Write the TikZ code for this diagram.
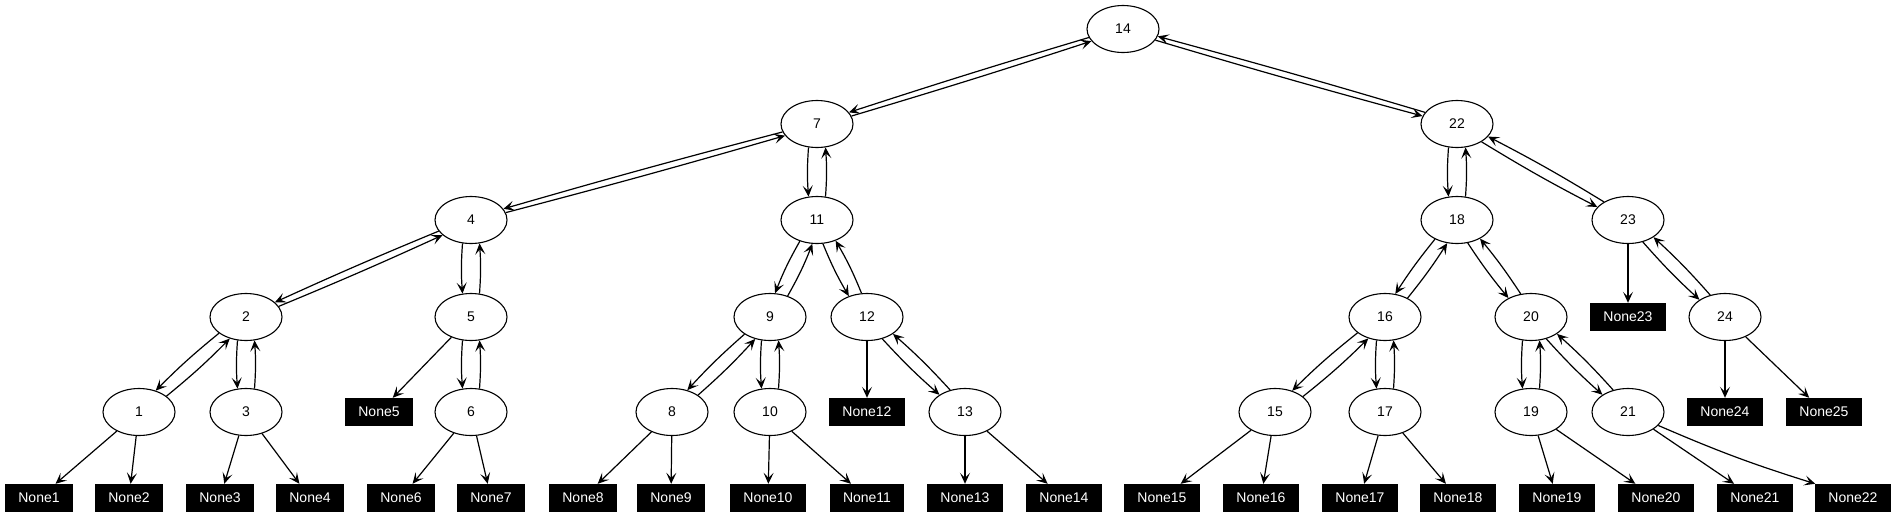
\documentclass[tikz,border=0pt]{standalone}
\usepackage{fontspec}
\setmainfont{Liberation Sans}
\usetikzlibrary{shapes.geometric,arrows.meta,calc}
\tikzset{
  tnode/.style={draw, ellipse, line width=1.1pt, minimum width=72pt, minimum height=47pt, inner sep=0pt, font=\fontsize{14}{16}\selectfont},
  nonebox/.style={fill=black, text=white, minimum height=28pt, inner xsep=13pt, inner ysep=0pt, font=\fontsize{14}{16}\selectfont},
  edge/.style={line width=1.2pt, -{Stealth[length=11pt,width=10pt,inset=5pt]}},
}
\newcommand\pairedge[4]{%
  \draw[edge] let \p1=($(#2)-(#1)$), \n1={atan2(\y1,\x1)}, \n2={\n1-#3}, \n3={\n1+180+#3} in
    (#1.\n2) to[bend right=#4] (#2.\n3);
  \draw[edge] let \p1=($(#2)-(#1)$), \n1={atan2(\y1,\x1)}, \n2={\n1+180-#3}, \n3={\n1+#3} in
    (#2.\n2) to[bend right=#4] (#1.\n3);
}
\begin{document}
\begin{tikzpicture}[x=1pt,y=-1pt]
\useasboundingbox[fill=white] (0,0) rectangle (1896,517);
% tree nodes
\node[tnode] (n14) at (1123,29) {14};
\node[tnode] (n7) at (817,124) {7};
\node[tnode] (n22) at (1457,124) {22};
\node[tnode] (n4) at (471,220) {4};
\node[tnode] (n11) at (817,220) {11};
\node[tnode] (n18) at (1457,220) {18};
\node[tnode] (n23) at (1628,220) {23};
\node[tnode] (n2) at (246,317) {2};
\node[tnode] (n5) at (471,317) {5};
\node[tnode] (n9) at (770,317) {9};
\node[tnode] (n12) at (867,317) {12};
\node[tnode] (n16) at (1385,317) {16};
\node[tnode] (n20) at (1531,317) {20};
\node[tnode] (n24) at (1725,317) {24};
\node[tnode] (n1) at (139,412) {1};
\node[tnode] (n3) at (246,412) {3};
\node[tnode] (n6) at (471,412) {6};
\node[tnode] (n8) at (672,412) {8};
\node[tnode] (n10) at (770,412) {10};
\node[tnode] (n13) at (965,412) {13};
\node[tnode] (n15) at (1275,412) {15};
\node[tnode] (n17) at (1385,412) {17};
\node[tnode] (n19) at (1531,412) {19};
\node[tnode] (n21) at (1628,412) {21};
% None boxes
\node[nonebox] (b23) at (1628,317) {None23};
\node[nonebox] (b5) at (379,412) {None5};
\node[nonebox] (b12) at (867,412) {None12};
\node[nonebox] (b24) at (1725,412) {None24};
\node[nonebox] (b25) at (1824,412) {None25};
\node[nonebox] (b1) at (39,498) {None1};
\node[nonebox] (b2) at (129,498) {None2};
\node[nonebox] (b3) at (220,498) {None3};
\node[nonebox] (b4) at (310,498) {None4};
\node[nonebox] (b6) at (401,498) {None6};
\node[nonebox] (b7) at (491,498) {None7};
\node[nonebox] (b8) at (583,498) {None8};
\node[nonebox] (b9) at (671,498) {None9};
\node[nonebox] (b10) at (768,498) {None10};
\node[nonebox] (b11) at (867,498) {None11};
\node[nonebox] (b13) at (965,498) {None13};
\node[nonebox] (b14) at (1064,498) {None14};
\node[nonebox] (b15) at (1162,498) {None15};
\node[nonebox] (b16) at (1261,498) {None16};
\node[nonebox] (b17) at (1360,498) {None17};
\node[nonebox] (b18) at (1458,498) {None18};
\node[nonebox] (b19) at (1557,498) {None19};
\node[nonebox] (b20) at (1656,498) {None20};
\node[nonebox] (b21) at (1755,498) {None21};
\node[nonebox] (b22) at (1853,498) {None22};
% paired edges
\pairedge{n14}{n7}{3.5}{0.7}
\pairedge{n14}{n22}{3.5}{0.7}
\pairedge{n7}{n4}{3.5}{0.7}
\pairedge{n7}{n11}{20}{4}
\pairedge{n4}{n2}{4.5}{1}
\pairedge{n4}{n5}{20}{4}
\pairedge{n11}{n9}{14}{4}
\pairedge{n11}{n12}{14}{4}
\pairedge{n22}{n18}{20}{4}
\pairedge{n22}{n23}{7}{2}
\pairedge{n2}{n1}{11}{3}
\pairedge{n2}{n3}{20}{4}
\pairedge{n5}{n6}{20}{4}
\pairedge{n9}{n8}{11}{3}
\pairedge{n9}{n10}{20}{4}
\pairedge{n12}{n13}{11}{3}
\pairedge{n18}{n16}{13}{3}
\pairedge{n18}{n20}{13}{3}
\pairedge{n23}{n24}{11}{3}
\pairedge{n16}{n15}{11}{3}
\pairedge{n16}{n17}{20}{4}
\pairedge{n20}{n19}{20}{4}
\pairedge{n20}{n21}{11}{3}
% single edges
\draw[edge] (n5) -- (b5);
\draw[edge] (n12) -- (b12);
\draw[edge] (n23) -- (b23);
\draw[edge] (n24) -- (b24);
\draw[edge] (n24) -- (b25);
\draw[edge] (n1) -- (b1);
\draw[edge] (n1) -- (b2);
\draw[edge] (n3) -- (b3);
\draw[edge] (n3) -- (b4);
\draw[edge] (n6) -- (b6);
\draw[edge] (n6) -- (b7);
\draw[edge] (n8) -- (b8);
\draw[edge] (n8) -- (b9);
\draw[edge] (n10) -- (b10);
\draw[edge] (n10) -- (b11);
\draw[edge] (n13) -- (b13);
\draw[edge] (n13) -- (b14);
\draw[edge] (n15) -- (b15);
\draw[edge] (n15) -- (b16);
\draw[edge] (n17) -- (b17);
\draw[edge] (n17) -- (b18);
\draw[edge] (n19) -- (b19);
\draw[edge] (n19) -- (b20);
\draw[edge] (n21) -- (b21);
\draw[edge] (n21) to[bend right=3] (b22.north west);
\end{tikzpicture}
\end{document}
